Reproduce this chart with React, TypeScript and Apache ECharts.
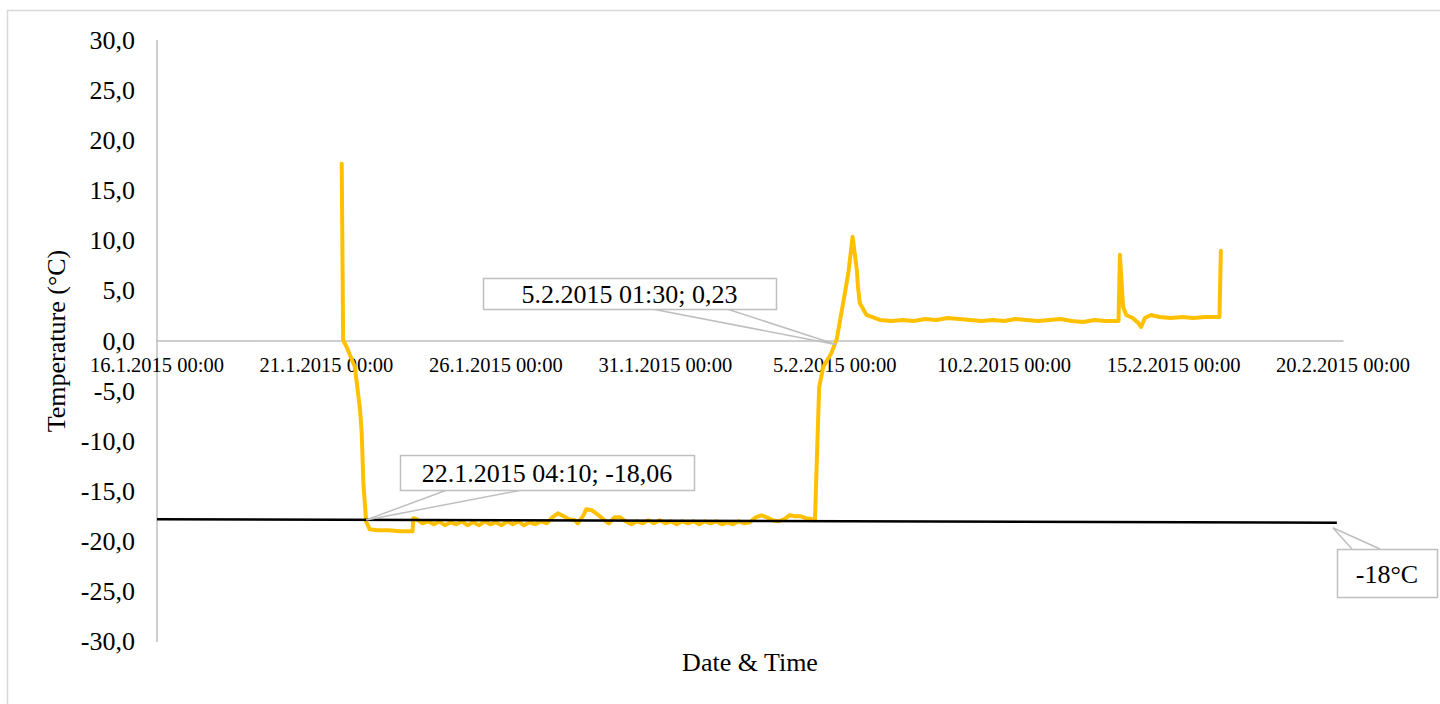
import React, { useEffect, useRef } from "react";
import * as echarts from "echarts";

const FONT = "'Liberation Serif', 'Times New Roman', serif";
const ORIGIN = "16.1.2015 00:00";

const xTickLabels = [
  "16.1.2015 00:00",
  "21.1.2015 00:00",
  "26.1.2015 00:00",
  "31.1.2015 00:00",
  "5.2.2015 00:00",
  "10.2.2015 00:00",
  "15.2.2015 00:00",
  "20.2.2015 00:00",
];

const tempTimes = [
  "21.1.2015 10:50", "21.1.2015 11:50", "21.1.2015 14:20", "21.1.2015 20:10", "21.1.2015 23:50",
  "22.1.2015 01:00", "22.1.2015 02:10", "22.1.2015 04:10", "22.1.2015 06:40", "22.1.2015 12:00", "22.1.2015 20:00",
  "23.1.2015 04:00", "23.1.2015 13:00", "23.1.2015 13:30", "23.1.2015 16:00", "23.1.2015 20:00",
  "24.1.2015 00:00", "24.1.2015 04:00", "24.1.2015 08:00", "24.1.2015 12:00", "24.1.2015 16:00", "24.1.2015 20:00",
  "25.1.2015 00:00", "25.1.2015 04:00", "25.1.2015 08:00", "25.1.2015 12:00", "25.1.2015 16:00", "25.1.2015 20:00",
  "26.1.2015 00:00", "26.1.2015 04:00", "26.1.2015 08:00", "26.1.2015 12:00", "26.1.2015 16:00", "26.1.2015 20:00",
  "27.1.2015 00:00", "27.1.2015 04:00", "27.1.2015 08:00", "27.1.2015 12:00", "27.1.2015 16:00", "27.1.2015 20:00",
  "28.1.2015 00:00", "28.1.2015 04:00", "28.1.2015 08:00", "28.1.2015 10:00", "28.1.2015 14:00", "28.1.2015 16:00", "28.1.2015 20:00",
  "29.1.2015 00:00", "29.1.2015 04:00", "29.1.2015 08:00", "29.1.2015 12:00", "29.1.2015 16:00", "29.1.2015 20:00",
  "30.1.2015 00:00", "30.1.2015 04:00", "30.1.2015 08:00", "30.1.2015 12:00", "30.1.2015 16:00", "30.1.2015 20:00",
  "31.1.2015 00:00", "31.1.2015 04:00", "31.1.2015 08:00", "31.1.2015 12:00", "31.1.2015 16:00", "31.1.2015 20:00",
  "1.2.2015 00:00", "1.2.2015 04:00", "1.2.2015 08:00", "1.2.2015 12:00", "1.2.2015 16:00", "1.2.2015 20:00",
  "2.2.2015 00:00", "2.2.2015 04:00", "2.2.2015 08:00", "2.2.2015 12:00", "2.2.2015 16:00", "2.2.2015 20:00",
  "3.2.2015 00:00", "3.2.2015 04:00", "3.2.2015 08:00", "3.2.2015 12:00", "3.2.2015 16:00", "3.2.2015 20:00",
  "4.2.2015 00:00", "4.2.2015 04:00", "4.2.2015 08:00", "4.2.2015 10:00", "4.2.2015 11:30", "4.2.2015 13:00",
  "4.2.2015 15:50", "4.2.2015 21:40",
  "5.2.2015 01:30", "5.2.2015 06:00", "5.2.2015 09:40", "5.2.2015 12:40", "5.2.2015 15:40", "5.2.2015 16:30",
  "5.2.2015 17:45", "5.2.2015 22:30",
  "6.2.2015 08:00", "6.2.2015 16:00", "7.2.2015 00:00", "7.2.2015 08:00", "7.2.2015 16:00",
  "8.2.2015 00:00", "8.2.2015 08:00", "8.2.2015 16:00", "9.2.2015 00:00", "9.2.2015 08:00", "9.2.2015 16:00",
  "10.2.2015 00:00", "10.2.2015 08:00", "10.2.2015 16:00", "11.2.2015 00:00", "11.2.2015 08:00", "11.2.2015 16:00",
  "12.2.2015 00:00", "12.2.2015 08:00", "12.2.2015 16:00", "13.2.2015 00:00", "13.2.2015 09:00",
  "13.2.2015 10:00", "13.2.2015 12:15", "13.2.2015 14:30", "13.2.2015 19:00", "13.2.2015 23:00",
  "14.2.2015 01:00", "14.2.2015 03:40", "14.2.2015 08:00", "14.2.2015 14:00", "14.2.2015 22:00",
  "15.2.2015 06:00", "15.2.2015 14:00", "15.2.2015 22:00", "16.2.2015 08:30", "16.2.2015 09:30",
];

const tempValues = [
  17.7, 0.1, -0.6, -2.6, -6.9,
  -9.2, -14.2, -18.06, -18.8, -18.9, -18.9,
  -19.0, -19.0, -17.7, -17.8, -18.2,
  -18.0, -18.3, -18.0, -18.4, -18.1, -18.3,
  -18.0, -18.4, -18.1, -18.4, -18.0, -18.3,
  -18.1, -18.4, -18.0, -18.3, -18.0, -18.4,
  -18.1, -18.3, -18.0, -18.2, -17.6, -17.2,
  -17.5, -17.8, -17.9, -18.2, -17.4, -16.8, -16.9,
  -17.3, -17.8, -18.2, -17.6, -17.6, -18.0,
  -18.3, -18.0, -18.2, -17.9, -18.2, -17.9,
  -18.2, -18.0, -18.3, -18.0, -18.2, -18.0,
  -18.3, -18.0, -18.2, -18.0, -18.3, -18.1,
  -18.3, -18.0, -18.2, -18.1, -17.6, -17.4,
  -17.6, -17.9, -18.0, -17.8, -17.4, -17.5,
  -17.5, -17.7, -17.8, -17.9, -11.2, -4.6,
  -2.6, -1.2,
  0.23, 3.8, 6.8, 10.4, 7.1, 5.4,
  3.8, 2.6,
  2.1, 2.0, 2.1, 2.0, 2.2,
  2.1, 2.3, 2.2, 2.1, 2.0, 2.1,
  2.0, 2.2, 2.1, 2.0, 2.1, 2.2,
  2.0, 1.9, 2.1, 2.0, 2.0,
  8.6, 3.4, 2.6, 2.3, 1.8,
  1.4, 2.3, 2.6, 2.4, 2.3,
  2.4, 2.3, 2.4, 2.4, 9.0,
];

const limitTimes = ["16.1.2015 00:00", "19.2.2015 19:40"];
const limitValues = [-17.8, -18.15];
const limitLabel = "-18°C";

const calloutTimes = ["5.2.2015 01:30", "22.1.2015 04:10"];
const calloutValues = [0.23, -18.06];
const calloutTexts = ["5.2.2015 01:30; 0,23", "22.1.2015 04:10; -18,06"];

const yAxisTitle = "Temperature (°C)";
const xAxisTitle = "Date & Time";

function toDay(s: string): number {
  const [datePart, timePart] = s.split(" ");
  const [d, m, y] = datePart.split(".").map(Number);
  const [hh, mm] = timePart.split(":").map(Number);
  const parse = (dd: number, mo: number, yy: number, h: number, mi: number) => Date.UTC(yy, mo - 1, dd, h, mi);
  const [od, om, oy] = ORIGIN.split(" ")[0].split(".").map(Number);
  return (parse(d, m, y, hh, mm) - parse(od, om, oy, 0, 0)) / 86400000;
}

export default function App() {
  const ref = useRef<HTMLDivElement>(null);

  useEffect(() => {
    if (!ref.current) return;
    const chart = echarts.init(ref.current, null, { renderer: "svg" });
    const tempData = tempTimes.map((t, i) => [toDay(t), tempValues[i]]);
    const limitData = limitTimes.map((t, i) => [toDay(t), limitValues[i]]);

    const gridTop = 40.5;
    const gridBottom = 62.5;
    const plotH = 704 - gridTop - gridBottom;
    // x axis sits where y = 0 (half-way for a symmetric -30..30 range)
    const zeroOffset = -plotH / 2;

    chart.setOption({
      animation: false,
      backgroundColor: "#ffffff",
      grid: { left: 157, right: 97, top: gridTop, bottom: gridBottom },
      xAxis: {
        type: "value",
        min: 0,
        max: 35,
        interval: 5,
        position: "bottom",
        offset: zeroOffset,
        axisLine: { show: true, onZero: false, lineStyle: { color: "#bfbfbf", width: 1.5 } },
        axisTick: { show: false },
        splitLine: { show: false },
        axisLabel: {
          color: "#000",
          fontFamily: FONT,
          fontSize: 20.5,
          margin: 13,
          formatter: (v: number) => xTickLabels[Math.round(v / 5)] ?? "",
        },
      },
      yAxis: {
        type: "value",
        min: -30,
        max: 30,
        interval: 5,
        name: yAxisTitle,
        nameLocation: "middle",
        nameGap: 87,
        nameTextStyle: { color: "#000", fontFamily: FONT, fontSize: 26 },
        axisLine: { show: true, onZero: false, lineStyle: { color: "#bfbfbf", width: 1.5 } },
        axisTick: { show: false },
        splitLine: { show: false },
        axisLabel: {
          color: "#000",
          fontFamily: FONT,
          fontSize: 26,
          margin: 22,
          formatter: (v: number) => v.toFixed(1).replace(".", ","),
        },
      },
      series: [
        {
          type: "line",
          name: "Temperature",
          data: tempData,
          showSymbol: false,
          symbol: "none",
          lineStyle: { color: "#ffc000", width: 4, join: "round", cap: "round" },
          z: 2,
        },
        {
          type: "line",
          name: limitLabel,
          data: limitData,
          showSymbol: false,
          symbol: "none",
          lineStyle: { color: "#000000", width: 2.5 },
          z: 3,
        },
      ],
    });

    const px = (t: string, v: number) => chart.convertToPixel({ gridIndex: 0 }, [toDay(t), v]) as number[];
    const boxStroke = "#bfbfbf";
    const textStyle = { fill: "#000", font: `26px ${FONT}`, align: "center", verticalAlign: "middle" };

    const tip1 = px(calloutTimes[0], calloutValues[0]);
    const tip2 = px(calloutTimes[1], calloutValues[1]);
    const limEnd = px(limitTimes[1], limitValues[1]);

    const boxes = [
      { x: 483, y: 278, w: 293, h: 31, b1: 652, b2: 727, top: false, tip: [tip1[0], tip1[1] + 6], text: calloutTexts[0] },
      { x: 400, y: 455, w: 294, h: 35, b1: 447, b2: 522, top: false, tip: [tip2[0], tip2[1] - 2], text: calloutTexts[1] },
      { x: 1337, y: 549, w: 100, h: 48, b1: 1352, b2: 1380, top: true, tip: [limEnd[0] - 4, limEnd[1] + 5], text: limitLabel },
    ];

    const plotCenterX = (px(xTickLabels[0], 0)[0] + px(xTickLabels[xTickLabels.length - 1], 0)[0]) / 2;

    const graphic: any[] = [
      {
        type: "rect",
        shape: { x: 7.5, y: 10.5, width: 1445, height: 710 },
        style: { fill: "none", stroke: "#d9d9d9", lineWidth: 1.5 },
        silent: true,
        z: 0,
      },
      {
        type: "text",
        x: plotCenterX,
        y: 662,
        style: { text: xAxisTitle, fill: "#000", font: `26px ${FONT}`, align: "center", verticalAlign: "middle" },
        z: 10,
      },
    ];
    boxes.forEach((b) => {
      const by = b.top ? b.y : b.y + b.h;
      graphic.push({
        type: "polyline",
        shape: { points: [[b.b1, by], b.tip, [b.b2, by]] },
        style: { fill: "none", stroke: boxStroke, lineWidth: 1.5 },
        z: 10,
      });
      graphic.push({
        type: "rect",
        shape: { x: b.x + 0.5, y: b.y + 0.5, width: b.w, height: b.h },
        style: { fill: "#ffffff", stroke: boxStroke, lineWidth: 1.5 },
        z: 11,
      });
      graphic.push({
        type: "text",
        x: b.x + b.w / 2,
        y: b.y + b.h / 2 + 1,
        style: { ...textStyle, text: b.text },
        z: 12,
      });
    });
    chart.setOption({ graphic });

    return () => chart.dispose();
  }, []);

  return (
    <div
      ref={ref}
      style={{ position: "absolute", left: 0, top: 0, width: 1440, height: 704, background: "#fff" }}
    />
  );
}
